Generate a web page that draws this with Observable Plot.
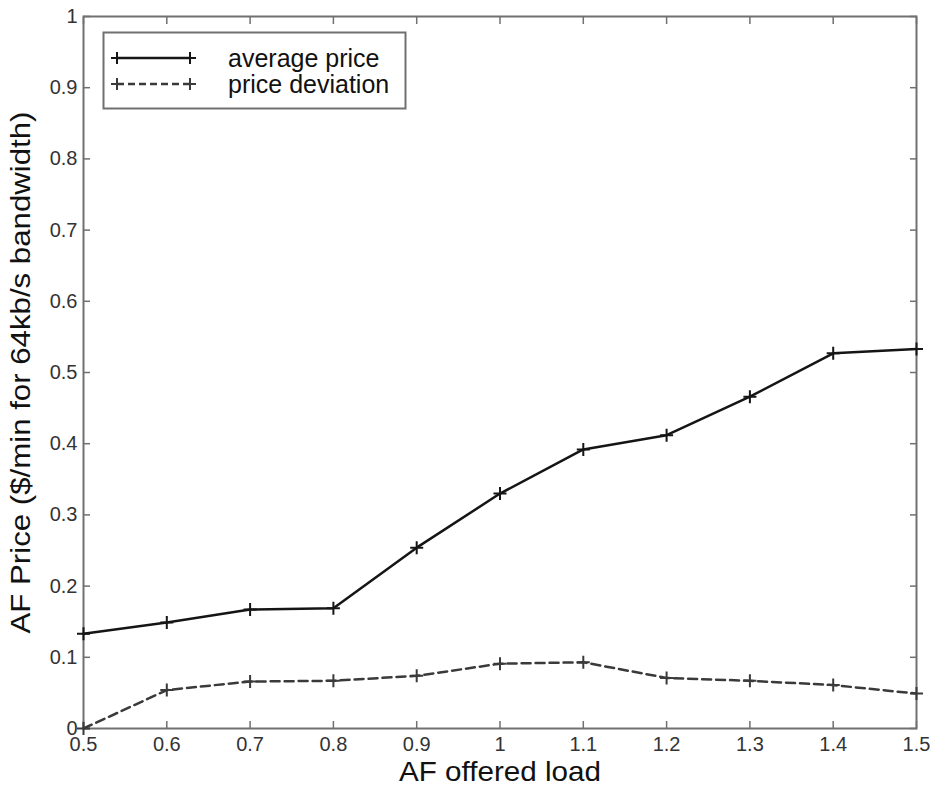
<!DOCTYPE html>
<html>
<head>
<meta charset="utf-8">
<script src="https://cdn.jsdelivr.net/npm/d3@7"></script>
<script src="https://cdn.jsdelivr.net/npm/@observablehq/plot@0.6"></script>
<style>
  html, body { margin: 0; padding: 0; background: #fff; }
  #wrap { position: relative; width: 930px; height: 793px; font-family: "Liberation Sans", Arial, sans-serif; }
  #legend { position: absolute; left: 0; top: 0; }
</style>
</head>
<body>
<div id="wrap"></div>
<script>
// ---- data ----
const offeredLoad = [0.5, 0.6, 0.7, 0.8, 0.9, 1.0, 1.1, 1.2, 1.3, 1.4, 1.5];
const averagePrice = [0.133, 0.149, 0.167, 0.169, 0.254, 0.330, 0.392, 0.412, 0.466, 0.527, 0.533];
const priceDeviation = [0.0, 0.054, 0.066, 0.067, 0.074, 0.091, 0.093, 0.071, 0.067, 0.061, 0.049];
const xTicks = [0.5, 0.6, 0.7, 0.8, 0.9, 1.0, 1.1, 1.2, 1.3, 1.4, 1.5];
const yTicks = [0, 0.1, 0.2, 0.3, 0.4, 0.5, 0.6, 0.7, 0.8, 0.9, 1];
const seriesNames = ["average price", "price deviation"];
const xLabel = "AF offered load";
const yLabel = "AF Price ($/min for 64kb/s bandwidth)";

const avgRows = offeredLoad.map((x, i) => ({x, y: averagePrice[i]}));
const devRows = offeredLoad.map((x, i) => ({x, y: priceDeviation[i]}));

const plusSymbol = {
  draw(context, size) {
    const r = Math.sqrt(size / Math.PI);
    context.moveTo(-r, 0); context.lineTo(r, 0);
    context.moveTo(0, -r); context.lineTo(0, r);
  }
};

const axisColor = "#707070";
const fmt = d => d === 0 ? "0" : d === 1 ? "1" : String(+d.toFixed(1));

const chart = Plot.plot({
  width: 930,
  height: 793,
  marginLeft: 83,
  marginRight: 14,
  marginTop: 16,
  marginBottom: 65,
  style: {fontFamily: "Liberation Sans, Arial, sans-serif", fontSize: "20px", color: "#222", background: "#fff"},
  x: {domain: [0.5, 1.5]},
  y: {domain: [0, 1]},
  marks: [
    Plot.frame({stroke: axisColor, strokeWidth: 2}),
    Plot.axisX({anchor: "bottom", ticks: xTicks, tickSize: -7, tickPadding: 15, stroke: axisColor, strokeWidth: 1.5, fill: "#333", tickFormat: fmt, label: null, fontSize: 20}),
    Plot.axisX({anchor: "top", ticks: xTicks, tickSize: -7, stroke: axisColor, strokeWidth: 1.5, fill: "none", label: null}),
    Plot.axisY({anchor: "left", ticks: yTicks, tickSize: -7, tickPadding: 13, stroke: axisColor, strokeWidth: 1.5, fill: "#333", tickFormat: fmt, label: null, fontSize: 20}),
    Plot.axisY({anchor: "right", ticks: yTicks, tickSize: -7, stroke: axisColor, strokeWidth: 1.5, fill: "none", label: null}),
    Plot.line(devRows, {x: "x", y: "y", stroke: "#3a3a3a", strokeWidth: 2.5, strokeDasharray: "9,5"}),
    Plot.dot(devRows, {x: "x", y: "y", symbol: plusSymbol, r: 6.5, stroke: "#3a3a3a", strokeWidth: 2, fill: "none"}),
    Plot.line(avgRows, {x: "x", y: "y", stroke: "#151515", strokeWidth: 2.5}),
    Plot.dot(avgRows, {x: "x", y: "y", symbol: plusSymbol, r: 6.5, stroke: "#151515", strokeWidth: 2, fill: "none"}),
    Plot.text([xLabel], {text: d => d, frameAnchor: "bottom", dy: 52, fontSize: 28, fill: "#111"}),
    Plot.text([yLabel], {text: d => d, frameAnchor: "left", dx: -62, rotate: -90, fontSize: 28, fill: "#111"})
  ]
});

document.getElementById("wrap").appendChild(chart);

// stretch axis titles to the reference's lengths (start-anchored so the stretch stays centred)
d3.select(chart).selectAll("text").filter(function() { return this.textContent === xLabel; })
  .attr("text-anchor", "start").attr("x", -101)
  .attr("textLength", 202).attr("lengthAdjust", "spacingAndGlyphs");
d3.select(chart).selectAll("text").filter(function() { return this.textContent === yLabel; })
  .attr("text-anchor", "start").attr("x", -261)
  .attr("textLength", 522).attr("lengthAdjust", "spacingAndGlyphs");

// ---- legend (Matlab style box) ----
const lg = d3.select("#wrap").append("svg")
  .attr("id", "legend").attr("width", 930).attr("height", 793)
  .style("pointer-events", "none");
lg.append("rect").attr("x", 103.5).attr("y", 32.5).attr("width", 302).attr("height", 76)
  .attr("fill", "#fff").attr("stroke", axisColor).attr("stroke-width", 2);
const rows = [
  {name: seriesNames[0], y: 58, stroke: "#151515", dash: null},
  {name: seriesNames[1], y: 84, stroke: "#3a3a3a", dash: "7,4"}
];
rows.forEach(r => {
  lg.append("line").attr("x1", 117).attr("x2", 190).attr("y1", r.y).attr("y2", r.y)
    .attr("stroke", r.stroke).attr("stroke-width", 2.5).attr("stroke-dasharray", r.dash);
  [117, 190].forEach(cx => {
    lg.append("path").attr("d", `M${cx - 6},${r.y}H${cx + 6}M${cx},${r.y - 6}V${r.y + 6}`)
      .attr("stroke", r.stroke).attr("stroke-width", 2).attr("fill", "none");
  });
  lg.append("text").attr("x", 228).attr("y", r.y).attr("dy", "0.36em")
    .attr("font-family", "Liberation Sans, Arial, sans-serif").attr("font-size", 25)
    .attr("fill", "#111").text(r.name);
});
</script>
</body>
</html>
